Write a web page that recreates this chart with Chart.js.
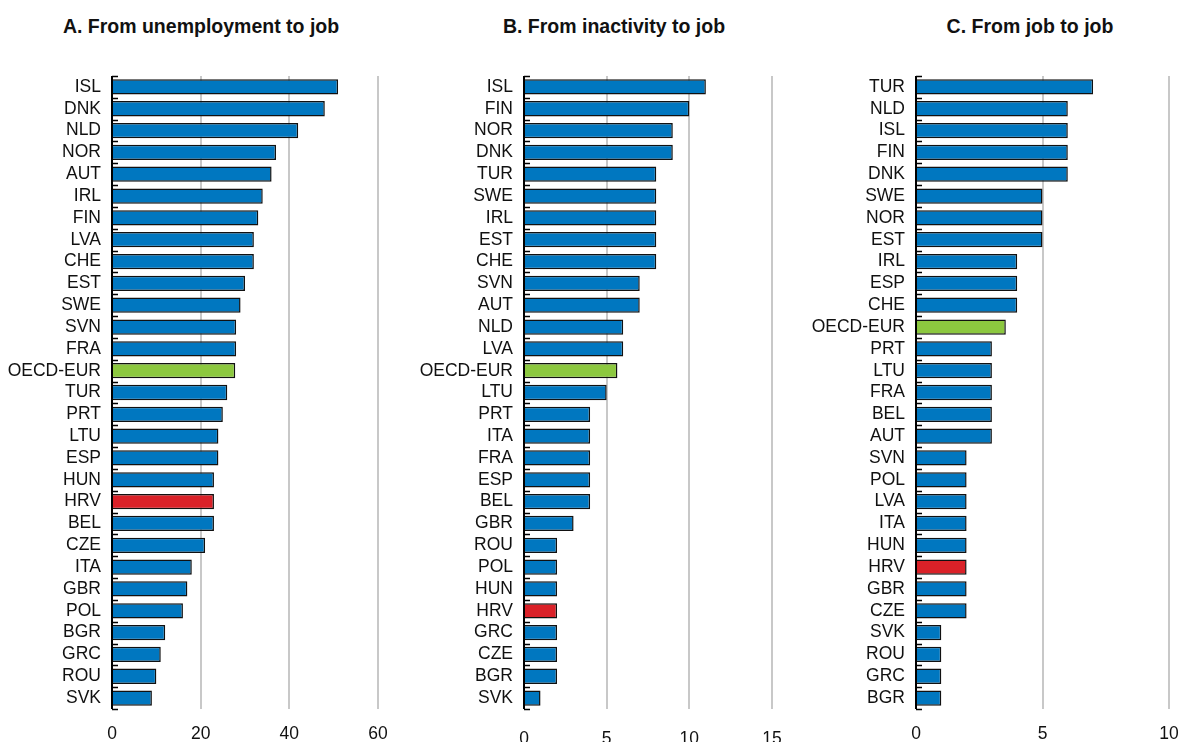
<!DOCTYPE html>
<html><head><meta charset="utf-8">
<script src="https://cdn.jsdelivr.net/npm/chart.js@4.4.1/dist/chart.umd.min.js"></script>
<style>
html,body{margin:0;padding:0;background:#fff;width:1184px;height:742px;overflow:hidden;}
.wrap{position:absolute;top:0;height:742px;}
.title{position:absolute;top:15px;font-family:"Liberation Sans Narrow","Arial Narrow","Liberation Sans",sans-serif;font-weight:bold;font-size:19.5px;color:#111;white-space:nowrap;transform:translateX(-50%);}
</style></head>
<body>
<div class="title" style="left:201px">A. From unemployment to job</div>
<div class="title" style="left:614px">B. From inactivity to job</div>
<div class="title" style="left:1030px">C. From job to job</div>
<div class="wrap" style="left:0;width:395px"><canvas id="cA"></canvas></div>
<div class="wrap" style="left:395px;width:395px"><canvas id="cB"></canvas></div>
<div class="wrap" style="left:790px;width:394px"><canvas id="cC"></canvas></div>
<script>
const catsA = ["ISL","DNK","NLD","NOR","AUT","IRL","FIN","LVA","CHE","EST","SWE","SVN","FRA","OECD-EUR","TUR","PRT","LTU","ESP","HUN","HRV","BEL","CZE","ITA","GBR","POL","BGR","GRC","ROU","SVK"];
const valsA = [51,48,42,37,36,34,33,32,32,30,29,28,28,27.8,26,25,24,24,23,23,23,21,18,17,16,12,11,10,9];
const ticksA = [0,20,40,60];

const catsB = ["ISL","FIN","NOR","DNK","TUR","SWE","IRL","EST","CHE","SVN","AUT","NLD","LVA","OECD-EUR","LTU","PRT","ITA","FRA","ESP","BEL","GBR","ROU","POL","HUN","HRV","GRC","CZE","BGR","SVK"];
const valsB = [11,10,9,9,8,8,8,8,8,7,7,6,6,5.65,5,4,4,4,4,4,3,2,2,2,2,2,2,2,1];
const ticksB = [0,5,10,15];

const catsC = ["TUR","NLD","ISL","FIN","DNK","SWE","NOR","EST","IRL","ESP","CHE","OECD-EUR","PRT","LTU","FRA","BEL","AUT","SVN","POL","LVA","ITA","HUN","HRV","GBR","CZE","SVK","ROU","GRC","BGR"];
const valsC = [7,6,6,6,6,5,5,5,4,4,4,3.55,3,3,3,3,3,2,2,2,2,2,2,2,2,1,1,1,1];
const ticksC = [0,5,10];

const BLUE="#0077C0", RED="#DA2128", GREEN="#8CC83F";
const FONT='"Liberation Sans Narrow","Arial Narrow","Liberation Sans",sans-serif';

const innerTicks = {
  id:'innerTicks',
  afterDatasetsDraw(chart){
    const y = chart.scales.y, ctx = chart.ctx, x0 = chart.chartArea.left;
    ctx.save(); ctx.strokeStyle='#000'; ctx.lineWidth=1.5;
    const n = chart.data.labels.length;
    for(let i=0;i<=n;i++){
      const py = Math.round(y.getPixelForValue(i-0.5))+0.5;
      ctx.beginPath(); ctx.moveTo(x0, py); ctx.lineTo(x0+6, py); ctx.stroke();
    }
    ctx.beginPath(); ctx.lineWidth=2; ctx.moveTo(x0, chart.chartArea.top); ctx.lineTo(x0, chart.chartArea.bottom); ctx.stroke();
    ctx.restore();
  }
};

function make(id, cats, vals, ticks, yW, padR, tickPad){
  const colors = cats.map(c => c==="HRV"?RED:(c==="OECD-EUR"?GREEN:BLUE));
  const max = ticks[ticks.length-1];
  new Chart(document.getElementById(id), {
    type:'bar',
    data:{labels:cats, datasets:[{data:vals, backgroundColor:colors, borderColor:'#111', borderWidth:1.5, categoryPercentage:0.7, barPercentage:1}]},
    options:{
      indexAxis:'y', responsive:true, maintainAspectRatio:false, animation:false,
      layout:{padding:{top:76, right:padR, left:0, bottom:0}},
      plugins:{legend:{display:false}, tooltip:{enabled:false}},
      scales:{
        x:{min:0,max:max, position:'bottom',
           afterBuildTicks(s){ s.ticks = ticks.map(v=>({value:v})); },
           afterFit(s){ s.height = 33; s.paddingLeft = 0; s.paddingRight = 0; },
           grid:{color:c=> c.tick && c.tick.value===0 ? 'rgba(0,0,0,0)' : '#c8c8c8', lineWidth:2, drawTicks:false},
           border:{display:false},
           ticks:{padding:tickPad, color:'#111', font:{family:FONT,size:17.5}}},
        y:{afterFit(s){ s.width = yW; },
           grid:{display:false, drawTicks:false},
           border:{display:false},
           ticks:{padding:11, color:'#111', font:{family:FONT,size:17.5}, autoSkip:false}}
      }
    },
    plugins:[innerTicks]
  });
}
make('cA', catsA, valsA, ticksA, 112, 17, 15);
make('cB', catsB, valsB, ticksB, 129, 18, 20);
make('cC', catsC, valsC, ticksC, 126, 15, 15);
</script>
</body></html>
